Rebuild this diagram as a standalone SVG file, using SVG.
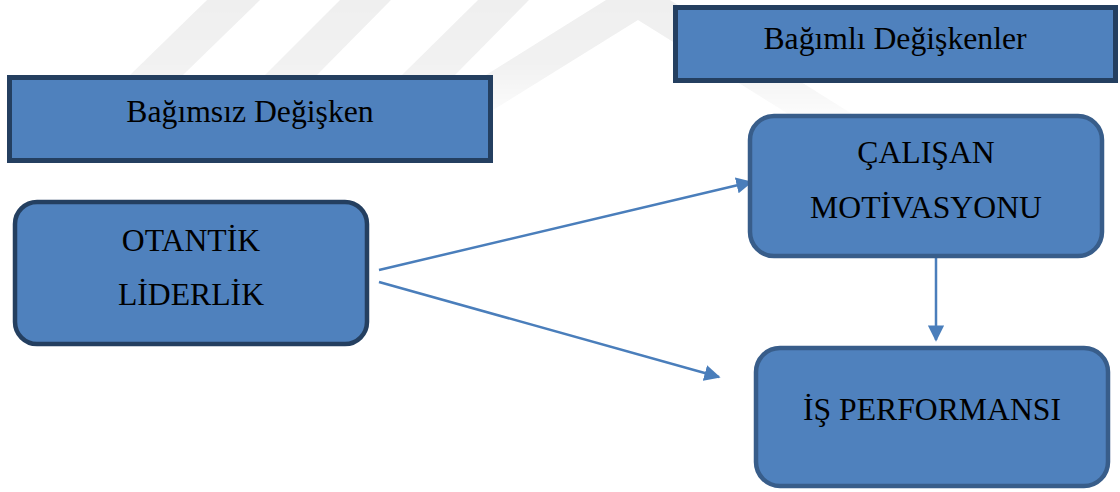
<svg xmlns="http://www.w3.org/2000/svg" width="1120" height="492" viewBox="0 0 1120 492">
  <style>
    .hdr { fill: #4f81bd; stroke: #243f60; stroke-width: 5; }
    .node { fill: #4f81bd; stroke-width: 4.5; }
    .lbl { font-family: "Liberation Serif", "Times New Roman", serif; font-size: 31.7px; fill: #000; text-anchor: middle; }
    .conn { stroke: #4a7ebb; stroke-width: 2.5; fill: none; }
    .wm { fill: #efefef; }
  </style>
  <defs>
    <linearGradient id="fade" x1="0" y1="0" x2="0" y2="1" gradientUnits="objectBoundingBox">
      <stop offset="0" stop-color="#fff" stop-opacity="1"/>
      <stop offset="0.5" stop-color="#fff" stop-opacity="0.85"/>
      <stop offset="1" stop-color="#fff" stop-opacity="0"/>
    </linearGradient>
    <mask id="wmMask" maskUnits="userSpaceOnUse" x="0" y="0" width="1120" height="130">
      <rect x="0" y="0" width="1120" height="130" fill="url(#fade)"/>
    </mask>
    <marker id="arrow" viewBox="0 0 10 10" refX="9" refY="5" markerWidth="6.5" markerHeight="6.5" markerUnits="strokeWidth" orient="auto">
      <path d="M0,0 L10,5 L0,10 z" fill="#4a7ebb"/>
    </marker>
  </defs>

  <rect x="0" y="0" width="1120" height="492" fill="#ffffff"/>

  <g id="watermark" mask="url(#wmMask)">
    <polygon class="wm" points="207,0 260,0 183,75 130,75"/>
    <polygon class="wm" points="340,0 391,0 317,75 265,75"/>
    <polygon class="wm" points="478,0 529,0 455,75 402,75"/>
    <polygon class="wm" points="638,-20 900,144 900,184 638,20 493,110 430,110"/>
  </g>

  <g id="connectors">
    <line class="conn" x1="379" y1="270" x2="751" y2="182" marker-end="url(#arrow)"/>
    <line class="conn" x1="379" y1="282" x2="719" y2="377" marker-end="url(#arrow)"/>
    <line class="conn" x1="936" y1="258" x2="936" y2="340" marker-end="url(#arrow)"/>
  </g>

  <g id="bagimsiz-degisken">
    <rect class="hdr" x="9.5" y="77.5" width="481" height="83"/>
    <text class="lbl" x="250" y="122">Bağımsız Değişken</text>
  </g>

  <g id="bagimli-degiskenler">
    <rect class="hdr" x="675.5" y="7.5" width="440" height="73"/>
    <text class="lbl" x="895" y="49">Bağımlı Değişkenler</text>
  </g>

  <g id="otantik-liderlik">
    <rect class="node" x="15" y="202" width="352" height="142" rx="22" ry="22" stroke="#243f60"/>
    <text class="lbl" x="191" y="251">OTANTİK</text>
    <text class="lbl" x="191" y="305">LİDERLİK</text>
  </g>

  <g id="calisan-motivasyonu">
    <rect class="node" x="750" y="116" width="352" height="140" rx="24" ry="24" stroke="#385d8a"/>
    <text class="lbl" x="926" y="163">ÇALIŞAN</text>
    <text class="lbl" x="926" y="218">MOTİVASYONU</text>
  </g>

  <g id="is-performansi">
    <rect class="node" x="756" y="348" width="352" height="138" rx="24" ry="24" stroke="#385d8a"/>
    <text class="lbl" x="932" y="420">İŞ PERFORMANSI</text>
  </g>
</svg>
